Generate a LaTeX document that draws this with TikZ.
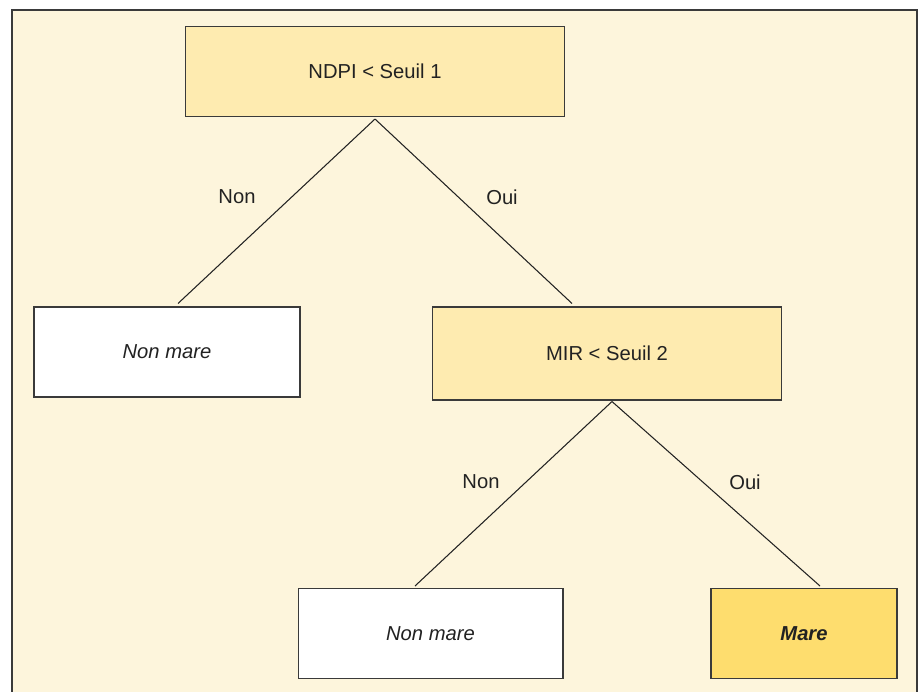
\documentclass[tikz,border=0pt]{standalone}
\usepackage{fontspec}
\setmainfont{Liberation Sans}

\definecolor{fond}{HTML}{FDF5DC}
\definecolor{test}{HTML}{FEEBB0}
\definecolor{feuille}{HTML}{FEDD6E}
\definecolor{trait}{HTML}{3A3A3A}
\definecolor{texte}{HTML}{222222}

\tikzset{
  boite/.style={draw=trait, line width=0.6pt, text=texte, inner sep=0pt,
    minimum height=1.8cm, font=\fontsize{11.5}{13}\selectfont},
  lbl/.style={text=texte, font=\fontsize{11.5}{13}\selectfont},
  arete/.style={draw=texte, line width=0.6pt}
}

\begin{document}
\begin{tikzpicture}[x=0.02cm,y=-0.02cm]
  \useasboundingbox (0,0) rectangle (920,691);
  % cadre de fond
  \fill[fond] (12,10) rectangle (917,700);
  \draw[trait, line width=0.6pt] (12,700) -- (12,10) -- (917,10) -- (917,700);

  % noeuds de l'arbre
  \node[boite, fill=test, minimum width=7.6cm] (ndpi) at (375,71.5) {NDPI < Seuil 1};
  \node[boite, fill=white, minimum width=5.32cm] (nonA) at (167,352) {\itshape Non mare};
  \node[boite, fill=test, minimum width=7cm, minimum height=1.86cm] (mir) at (607,353.5) {MIR < Seuil 2};
  \node[boite, fill=white, minimum width=5.3cm] (nonB) at (430.5,633.5) {\itshape Non mare};
  \node[boite, fill=feuille, minimum width=3.72cm] (mare) at (804,633.5) {\bfseries\itshape Mare};

  % branches
  \draw[arete] ([yshift=-0.04cm]ndpi.south) -- ([xshift=0.22cm,yshift=0.06cm]nonA.north);
  \draw[arete] ([yshift=-0.04cm]ndpi.south) -- ([xshift=-0.7cm,yshift=0.06cm]mir.north);
  \draw[arete] ([xshift=0.1cm,yshift=-0.02cm]mir.south) -- ([xshift=-0.31cm,yshift=0.04cm]nonB.north);
  \draw[arete] ([xshift=0.1cm,yshift=-0.02cm]mir.south) -- ([xshift=0.32cm,yshift=0.04cm]mare.north);

  % etiquettes
  \node[lbl] (n1) at (237,197) {Non};
  \node[lbl] (o1) at (502,197) {Oui};
  \node[lbl] (n2) at (481,482) {Non};
  \node[lbl] (o2) at (745,482) {Oui};
\end{tikzpicture}
\end{document}
